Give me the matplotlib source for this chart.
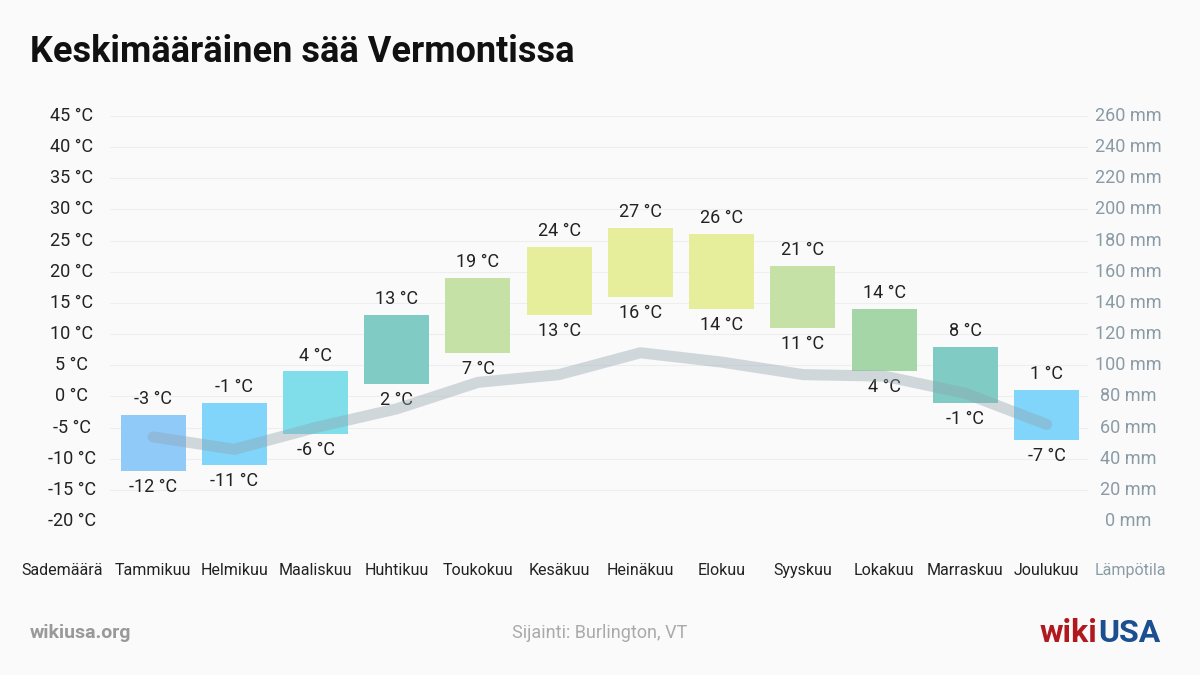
import matplotlib
matplotlib.use("Agg")
import matplotlib.pyplot as plt
from matplotlib import font_manager as fm

months = ["Tammikuu", "Helmikuu", "Maaliskuu", "Huhtikuu", "Toukokuu", "Kesäkuu",
          "Heinäkuu", "Elokuu", "Syyskuu", "Lokakuu", "Marraskuu", "Joulukuu"]
t_max = [-3, -1, 4, 13, 19, 24, 27, 26, 21, 14, 8, 1]
t_min = [-12, -11, -6, 2, 7, 13, 16, 14, 11, 4, -1, -7]
precip = [54, 46, 60, 72, 89, 94, 108, 102, 94, 93, 82, 62]
bar_colors = ["#90caf9", "#81d4fa", "#80deea", "#80cbc4", "#c5e1a5", "#e6ee9c",
              "#e6ee9c", "#e6ee9c", "#c5e1a5", "#a5d6a7", "#80cbc4", "#81d4fa"]
left_ticks = list(range(-20, 50, 5))
right_ticks = list(range(0, 280, 20))

def pick(names):
    for n in names:
        try:
            fm.findfont(fm.FontProperties(family=n), fallback_to_default=False)
            return n
        except Exception:
            pass
    return "DejaVu Sans"

FONT = pick(["Liberation Sans Narrow", "Roboto", "Open Sans"])
plt.rcParams["font.family"] = [FONT, "DejaVu Sans"]

BG = "#fafafa"
fig = plt.figure(figsize=(12, 6.75), dpi=100, facecolor=BG)
ax = fig.add_axes([110/1200, 1 - 521/675, (1088-110)/1200, (521-116)/675])
ax.set_facecolor(BG)
ax.set_xlim(-0.53, 11.51)
ax.set_ylim(-20, 45)
for s in ax.spines.values():
    s.set_visible(False)
ax.set_yticks(left_ticks)
ax.yaxis.grid(True, color="#eeeeee", linewidth=0.8)
ax.set_axisbelow(True)

x = list(range(12))
heights = [a - b for a, b in zip(t_max, t_min)]
ax.bar(x, heights, bottom=t_min, width=0.8, color=bar_colors, zorder=2)

for i in x:
    ax.annotate(f"{t_max[i]} °C", (i, t_max[i]), xytext=(0, 5), textcoords="offset points",
                ha="center", va="bottom", fontsize=13, color="#222222", zorder=4)
    ax.annotate(f"{t_min[i]} °C", (i, t_min[i]), xytext=(0, -5), textcoords="offset points",
                ha="center", va="top", fontsize=13, color="#222222", zorder=4)

ax2 = ax.twinx()
ax2.set_ylim(0, 260)
ax2.set_xlim(-0.53, 11.51)
for s in ax2.spines.values():
    s.set_visible(False)
ax2.plot(x, precip, color="#90a4ae", alpha=0.4, linewidth=8, solid_capstyle="round",
         solid_joinstyle="round", zorder=3)
for a in (ax, ax2):
    a.tick_params(left=False, right=False, bottom=False, top=False,
                  labelleft=False, labelright=False, labelbottom=False)

# left tick labels
for v in left_ticks:
    ax.text(-0.53 - (110-72)/81.2, v, f"{v} °C", ha="center", va="center",
            fontsize=13, color="#222222", clip_on=False)
for v in right_ticks:
    ax2.text(11.51 + (1128-1088)/81.2, v, f"{v} mm", ha="center", va="center",
             fontsize=13, color="#8a9ba6", clip_on=False)

# month labels
ylab = 1 - 575/675
for i, m in enumerate(months):
    fig.text((153 + 81.2*i)/1200, ylab, m, ha="center", va="baseline", fontsize=11.5, color="#222222")
fig.text(62/1200, ylab, "Sademäärä", ha="center", va="baseline", fontsize=11.5, color="#222222")
fig.text(1130/1200, ylab, "Lämpötila", ha="center", va="baseline", fontsize=11.5, color="#8a9ba6")

fig.text(30/1200, 1 - 52/675, "Keskimääräinen sää Vermontissa", ha="left", va="center",
         fontsize=26, fontweight="bold", color="#111111")
fig.text(30/1200, 1 - 638/675, "wikiusa.org", ha="left", va="baseline", fontsize=14,
         fontweight="bold", color="#999999")
fig.text(600/1200, 1 - 638/675, "Sijainti: Burlington, VT", ha="center", va="baseline",
         fontsize=13, color="#aaaaaa")
t1 = fig.text(1040/1200, 1 - 642/675, "wiki", ha="left", va="baseline", fontsize=23,
              fontweight="bold", color="#b0191e")
fig.canvas.draw()
bb = t1.get_window_extent()
fig.text(bb.x1/1200, 1 - 642/675, "USA", ha="left", va="baseline", fontsize=23,
         fontweight="bold", color="#1b4f8f")

fig.savefig("out.png", dpi=100, facecolor=BG)
